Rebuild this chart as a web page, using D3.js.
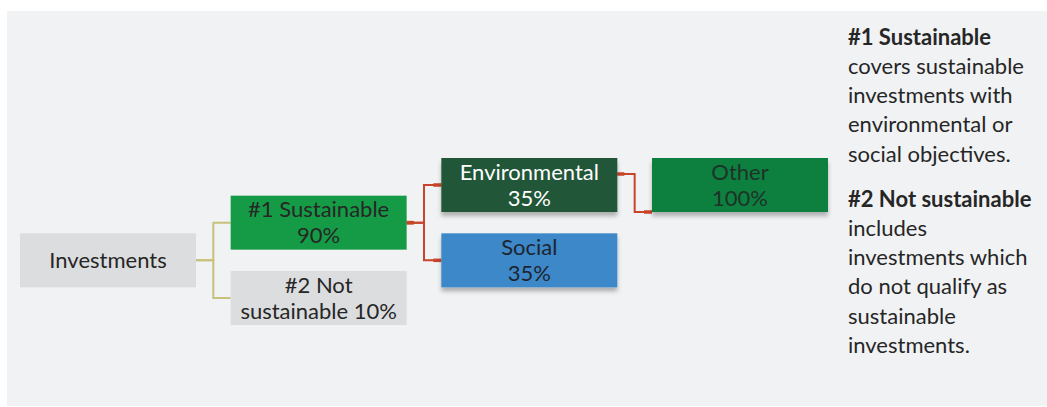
<!DOCTYPE html>
<html><head><meta charset="utf-8">
<script src="https://cdn.jsdelivr.net/npm/d3@7"></script>
<style>body{margin:0;background:#fff}svg{display:block}</style>
</head><body>
<svg id="chart" width="1047" height="407"></svg>
<script>
// ---- data ----
const nodeNames   = ["Investments", "#1 Sustainable", "#2 Not sustainable", "Environmental", "Social", "Other"];
const nodeLines   = [["Investments"], ["#1 Sustainable", "90%"], ["#2 Not", "sustainable 10%"], ["Environmental", "35%"], ["Social", "35%"], ["Other", "100%"]];
const nodeShares  = [100, 90, 10, 35, 35, 100];
const nodeParents = [null, 0, 0, 1, 1, 3];
const nodeLevels  = [0, 1, 1, 2, 2, 3];
const nodeRows    = [2, 1, 3, 0, 2, 0];
const nodeFills   = ["#dcdddf", "#159b46", "#dcdddf", "#215737", "#3e88c8", "#0e8040"];
const nodeText    = ["#262626", "#262626", "#262626", "#ffffff", "#1d2530", "#1e3328"];
const notesTitle1 = "#1 Sustainable";
const notesBody1  = ["covers sustainable", "investments with", "environmental or", "social objectives."];
const notesTitle2 = "#2 Not sustainable";
const notesBody2  = ["includes", "investments which", "do not qualify as", "sustainable", "investments."];

// ---- layout ----
const svg = d3.select("#chart");
const FONT = "Lato, 'Open Sans', sans-serif";
const FS = 22;
const boxW = 176, boxH = 54;
const x = d3.scaleLinear().domain([0, 3]).range([20, 652]);
const y = d3.scaleLinear().domain([0, 3]).range([185, 298]);

const defs = svg.append("defs");
const f = defs.append("filter").attr("id", "sh").attr("x", "-10%").attr("y", "-20%").attr("width", "120%").attr("height", "160%");
f.append("feDropShadow").attr("dx", 0).attr("dy", 4).attr("stdDeviation", 2).attr("flood-color", "#000").attr("flood-opacity", 0.28);

svg.append("rect").attr("x", 7).attr("y", 11).attr("width", 1040).attr("height", 395).attr("fill", "#f1f2f4");

const nodes = nodeNames.map((n, i) => ({
  i, name: n, lines: nodeLines[i], parent: nodeParents[i],
  x0: x(nodeLevels[i]), cy: y(nodeRows[i]), fill: nodeFills[i], tc: nodeText[i], level: nodeLevels[i]
}));

// links
const linkG = svg.append("g").attr("fill", "none");
nodes.filter(d => d.parent !== null).forEach(d => {
  const p = nodes[d.parent];
  const px = p.x0 + boxW, cx = d.x0;
  const mx = (px + cx) / 2;
  const siblings = nodes.filter(s => s.parent === p.i);
  let py = p.cy, cyy = d.cy;
  if (siblings.length === 1) { py = p.cy - 11; cyy = d.cy + boxH / 2; }
  const col = p.level === 0 ? "#c8c17c" : "#c8442a";
  linkG.append("path").attr("d", `M${px},${py}H${mx}V${cyy}H${cx}`)
    .attr("stroke", col).attr("stroke-width", 2);
  if (p.level > 0) {
    linkG.append("path").attr("d", `M${cx - 8},${cyy}H${cx}`).attr("stroke", col).attr("stroke-width", 3.5);
    linkG.append("path").attr("d", `M${px},${py}H${px + 7}`).attr("stroke", col).attr("stroke-width", 3.5);
  }
});

// boxes
const ng = svg.append("g").selectAll("g").data(nodes).join("g");
ng.append("rect")
  .attr("x", d => d.x0).attr("y", d => d.cy - boxH / 2)
  .attr("width", boxW).attr("height", boxH)
  .attr("fill", d => d.fill)
  .attr("filter", d => d.level >= 2 ? "url(#sh)" : null);
ng.each(function(d) {
  const g = d3.select(this);
  const n = d.lines.length;
  d.lines.forEach((t, k) => {
    g.append("text").attr("x", d.x0 + boxW / 2)
      .attr("y", d.cy + (k - (n - 1) / 2) * 26)
      .attr("dy", "0.35em").attr("text-anchor", "middle")
      .attr("font-family", FONT).attr("font-size", FS)
      .attr("fill", d.tc).text(t);
  });
});

// notes
const notes = svg.append("g").attr("font-family", FONT).attr("font-size", FS).attr("fill", "#262626");
const lh = 29.2;
function block(title, body, y0) {
  notes.append("text").attr("x", 848).attr("y", y0).attr("dy", "0.35em").attr("font-weight", "bold").text(title);
  body.forEach((t, k) => notes.append("text").attr("x", 848).attr("y", y0 + (k + 1) * lh).attr("dy", "0.35em").text(t));
}
block(notesTitle1, notesBody1, 37);
block(notesTitle2, notesBody2, 199);
</script>
</body></html>
